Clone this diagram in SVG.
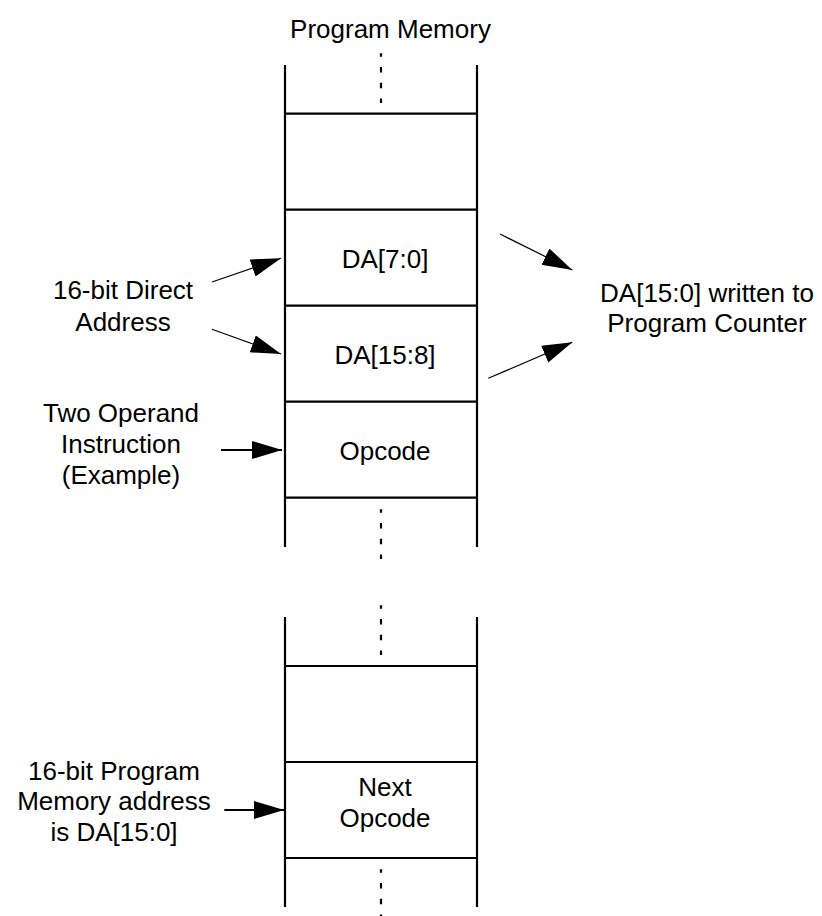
<svg xmlns="http://www.w3.org/2000/svg" width="822" height="916" viewBox="0 0 822 916">
  <style>
    .wall { stroke: #000; stroke-width: 2.2; fill: none; }
    .dots { stroke: #000; stroke-width: 2.2; stroke-dasharray: 5.5 10.3; stroke-dashoffset: 2.1; fill: none; }
    .thin { stroke: #000; stroke-width: 1.2; fill: none; }
    .thick { stroke: #000; stroke-width: 2.2; fill: none; }
    text { font-family: "Liberation Sans", Arial, sans-serif; font-size: 26px; fill: #000; text-anchor: middle; }
  </style>
  <defs>
    <marker id="head" markerUnits="userSpaceOnUse" markerWidth="32" markerHeight="20" refX="30" refY="9" orient="auto">
      <polygon points="0,0 30,9 0,18" fill="#000"/>
    </marker>
  </defs>
  <rect width="822" height="916" fill="#fff"/>

  <text x="390.5" y="38">Program Memory</text>

  <!-- upper memory column -->
  <g id="memory-upper">
    <line class="wall" x1="285" y1="65" x2="285" y2="547"/>
    <line class="wall" x1="477" y1="65" x2="477" y2="547"/>
    <line class="dots" x1="381" y1="53.3" x2="381" y2="103"/>
    <line class="dots" x1="381" y1="509.3" x2="381" y2="559"/>
  </g>
  <g id="cell-empty-upper">
    <line class="wall" x1="285" y1="113.7" x2="477" y2="113.7"/>
    <line class="wall" x1="285" y1="209.7" x2="477" y2="209.7"/>
  </g>
  <g id="cell-da-low">
    <line class="wall" x1="285" y1="305.7" x2="477" y2="305.7"/>
    <text x="385" y="268">DA[7:0]</text>
  </g>
  <g id="cell-da-high">
    <line class="wall" x1="285" y1="401.7" x2="477" y2="401.7"/>
    <text x="385" y="364">DA[15:8]</text>
  </g>
  <g id="cell-opcode">
    <line class="wall" x1="285" y1="497.7" x2="477" y2="497.7"/>
    <text x="385" y="460">Opcode</text>
  </g>

  <!-- lower memory column -->
  <g id="memory-lower">
    <line class="wall" x1="285" y1="617" x2="285" y2="907"/>
    <line class="wall" x1="477" y1="617" x2="477" y2="907"/>
    <line class="dots" x1="381" y1="605.3" x2="381" y2="655"/>
    <line class="dots" x1="381" y1="869.3" x2="381" y2="916"/>
  </g>
  <g id="cell-empty-lower">
    <line class="wall" x1="285" y1="666" x2="477" y2="666"/>
    <line class="wall" x1="285" y1="762" x2="477" y2="762"/>
  </g>
  <g id="cell-next-opcode">
    <line class="wall" x1="285" y1="858" x2="477" y2="858"/>
    <text x="385" y="796">Next</text>
    <text x="385" y="827">Opcode</text>
  </g>

  <!-- labels -->
  <g id="label-direct-address">
    <text x="123" y="299">16-bit Direct</text>
    <text x="123" y="330.5">Address</text>
  </g>
  <g id="label-instruction">
    <text x="121" y="422">Two Operand</text>
    <text x="121" y="453">Instruction</text>
    <text x="121" y="484">(Example)</text>
  </g>
  <g id="label-program-counter">
    <text x="707" y="301.5">DA[15:0] written to</text>
    <text x="707" y="332">Program Counter</text>
  </g>
  <g id="label-pm-address">
    <text x="114" y="779.5">16-bit Program</text>
    <text x="114" y="810">Memory address</text>
    <text x="114" y="840.5">is DA[15:0]</text>
  </g>

  <!-- connectors -->
  <g id="connectors">
    <line class="thin" x1="212" y1="282" x2="281" y2="258.3" marker-end="url(#head)"/>
    <line class="thin" x1="212" y1="329.3" x2="281" y2="354" marker-end="url(#head)"/>
    <line class="thick" x1="221" y1="450" x2="282" y2="450" marker-end="url(#head)"/>
    <line class="thin" x1="500" y1="234" x2="572.3" y2="270" marker-end="url(#head)"/>
    <line class="thin" x1="488.3" y1="378.3" x2="572.3" y2="342.3" marker-end="url(#head)"/>
    <line class="thick" x1="224.3" y1="810" x2="284" y2="810" marker-end="url(#head)"/>
  </g>
</svg>
